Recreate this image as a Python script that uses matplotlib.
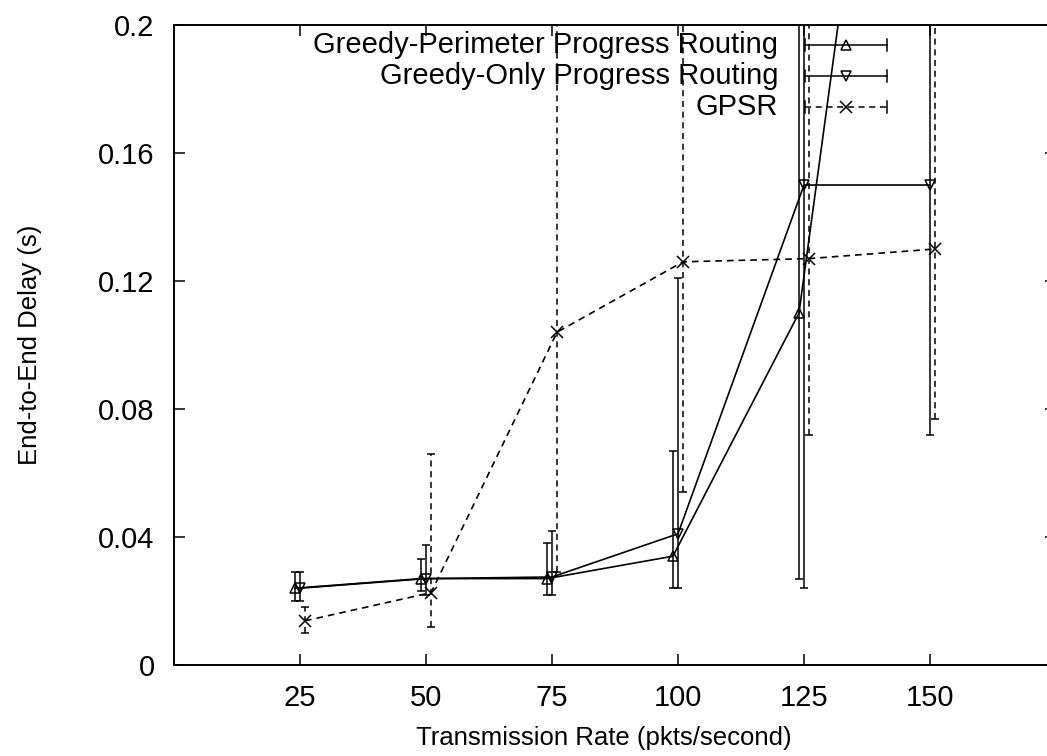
import matplotlib
matplotlib.use("Agg")
import matplotlib.pyplot as plt

plt.rcParams['font.family'] = ['Liberation Sans', 'DejaVu Sans']

# data (x slightly offset per series, as in the original)
perim_x = [24, 49, 74, 99, 124, 149]
perim_y = [0.024, 0.027, 0.027, 0.034, 0.110, 0.40]
perim_lo = [0.020, 0.023, 0.022, 0.024, 0.027, 0.25]
perim_hi = [0.029, 0.033, 0.038, 0.067, 0.30, 0.55]

greedy_x = [25, 50, 75, 100, 125, 150]
greedy_y = [0.024, 0.027, 0.0275, 0.041, 0.150, 0.150]
greedy_lo = [0.020, 0.022, 0.022, 0.024, 0.024, 0.072]
greedy_hi = [0.029, 0.0375, 0.042, 0.121, 0.30, 0.30]

gpsr_x = [26, 51, 76, 101, 126, 151]
gpsr_y = [0.0138, 0.0226, 0.104, 0.126, 0.127, 0.130]
gpsr_lo = [0.010, 0.012, 0.029, 0.054, 0.072, 0.077]
gpsr_hi = [0.018, 0.066, 0.30, 0.30, 0.30, 0.30]

labels = ['Greedy-Perimeter Progress Routing', 'Greedy-Only Progress Routing', 'GPSR']
xticks = [25, 50, 75, 100, 125, 150]
yticks = [0, 0.04, 0.08, 0.12, 0.16, 0.2]
ytick_labels = ['0', '0.04', '0.08', '0.12', '0.16', '0.2']

fig = plt.figure(figsize=(10.47, 7.56), dpi=100)
ax = fig.add_axes([174 / 1047, 91 / 756, 882 / 1047, 640 / 756])


def draw(x, y, lo, hi, marker, ls, ms):
    err = [[v - l for v, l in zip(y, lo)], [h - v for v, h in zip(y, hi)]]
    eb = ax.errorbar(x, y, yerr=err, color='k', lw=1.2, ls=ls, marker=marker,
                     ms=ms, mfc='none', mec='k', mew=1.1, capsize=3,
                     elinewidth=1.1, capthick=1.1)
    if ls != '-':
        eb[2][0].set_linestyle((0, (4, 3)))
    return eb


draw(perim_x, perim_y, perim_lo, perim_hi, '^', '-', 7)
draw(greedy_x, greedy_y, greedy_lo, greedy_hi, 'v', '-', 7)
draw(gpsr_x, gpsr_y, gpsr_lo, gpsr_hi, 'x', (0, (4, 3)), 9)

# gnuplot-style key, drawn by hand
styles = [('^', '-', 7), ('v', '-', 7), ('x', (0, (4, 3)), 9)]
for i, (lab, (m, ls, ms)) in enumerate(zip(labels, styles)):
    yy = 1 - (20 + 31 * i) / 640
    ax.text(604 / 882, yy, lab, transform=ax.transAxes, ha='right', va='center',
            fontsize=21)
    ax.plot([631 / 882, 713 / 882], [yy, yy], transform=ax.transAxes, color='k',
            lw=1.1, ls=ls)
    for ex in (631 / 882, 713 / 882):
        ax.plot([ex, ex], [yy - 6 / 640, yy + 6 / 640], transform=ax.transAxes,
                color='k', lw=1.1)
    ax.plot([672 / 882], [yy], transform=ax.transAxes, marker=m, ms=ms,
            mfc='none', mec='k', mew=1.1, color='k')

ax.set_xlim(0, 175)
ax.set_ylim(0, 0.2)
ax.set_xticks(xticks)
ax.set_yticks(yticks)
ax.set_yticklabels(ytick_labels)
ax.tick_params(direction='in', length=8, width=1.1, labelsize=21, pad=14,
               top=True, right=True)
for s in ax.spines.values():
    s.set_linewidth(1.4)

ax.set_xlabel('Transmission Rate (pkts/second)', fontsize=18.5)
ax.set_ylabel('End-to-End Delay (s)', fontsize=18.5)
ax.xaxis.set_label_coords((604 - 174) / 882, -(738 - 665) / 640)
ax.yaxis.set_label_coords((30 - 174) / 882, (665 - 345) / 640)
ax.xaxis.label.set_va('center')
ax.yaxis.label.set_va('center')

fig.savefig('out.png', dpi=100)
